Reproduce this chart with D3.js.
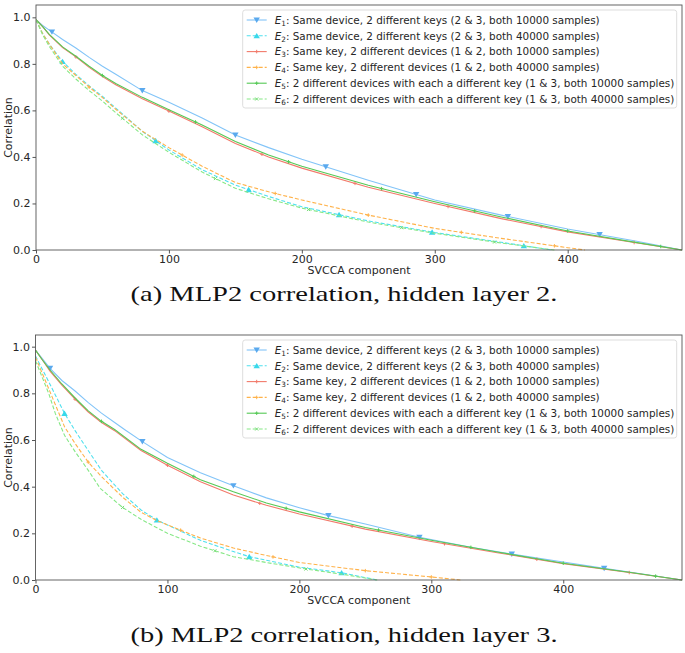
<!DOCTYPE html>
<html><head><meta charset="utf-8">
<script src="https://cdn.jsdelivr.net/npm/d3@7"></script>
<style>body{margin:0;background:#fff}svg{display:block}</style>
</head><body>
<svg id="c" width="685" height="653"></svg>
<script>
// ---------- data (component, correlation) ----------
const xTicks = [0, 100, 200, 300, 400];
const yTicks = [0, 0.2, 0.4, 0.6, 0.8, 1.0];
const legendLabels = [
  ": Same device, 2 different keys (2 & 3, both 10000 samples)",
  ": Same device, 2 different keys (2 & 3, both 40000 samples)",
  ": Same key, 2 different devices (1 & 2, both 10000 samples)",
  ": Same key, 2 different devices (1 & 2, both 40000 samples)",
  ": 2 different devices with each a different key (1 & 3, both 10000 samples)",
  ": 2 different devices with each a different key (1 & 3, both 40000 samples)"
];
const captions = ["(a) MLP2 correlation, hidden layer 2.", "(b) MLP2 correlation, hidden layer 3."];

// Panel (a): hidden layer 2
const aE1 = [[0,0.99],[5,0.965],[10,0.945],[20,0.905],[30,0.868],[40,0.828],[50,0.79],[60,0.755],[80,0.685],[100,0.635],[125,0.567],[150,0.494],[175,0.44],[200,0.39],[250,0.30],[300,0.215],[350,0.15],[400,0.09],[450,0.04],[486,0]];
const aE2 = [[0,0.99],[5,0.93],[10,0.885],[20,0.81],[30,0.755],[40,0.705],[50,0.66],[60,0.61],[80,0.51],[100,0.43],[125,0.345],[150,0.279],[175,0.23],[200,0.186],[250,0.125],[300,0.075],[350,0.033],[388,0]];
const aE3 = [[0,0.99],[5,0.96],[10,0.925],[20,0.87],[30,0.83],[40,0.785],[50,0.745],[60,0.71],[80,0.65],[100,0.597],[125,0.53],[150,0.458],[175,0.40],[200,0.352],[250,0.27],[300,0.20],[350,0.135],[400,0.078],[450,0.032],[486,0]];
const aE4 = [[0,0.99],[5,0.93],[10,0.885],[20,0.80],[30,0.75],[40,0.70],[50,0.655],[60,0.605],[80,0.51],[100,0.44],[125,0.36],[150,0.29],[175,0.25],[200,0.215],[250,0.15],[300,0.093],[350,0.05],[400,0.01],[413,0]];
const aE5 = [[0,0.99],[5,0.96],[10,0.927],[20,0.873],[30,0.833],[40,0.79],[50,0.75],[60,0.716],[80,0.656],[100,0.603],[125,0.537],[150,0.466],[175,0.408],[200,0.36],[250,0.278],[300,0.207],[350,0.142],[400,0.082],[450,0.034],[486,0]];
const aE6 = [[0,0.99],[5,0.925],[10,0.875],[20,0.79],[30,0.735],[40,0.685],[50,0.64],[60,0.59],[80,0.495],[100,0.42],[125,0.335],[150,0.265],[175,0.22],[200,0.18],[250,0.12],[300,0.072],[350,0.03],[390,0]];

// Panel (b): hidden layer 3
const bE1 = [[0,0.985],[5,0.95],[11,0.907],[20,0.855],[30,0.81],[40,0.76],[50,0.715],[60,0.675],[68,0.643],[81,0.593],[100,0.525],[125,0.46],[150,0.404],[175,0.352],[200,0.31],[222,0.276],[250,0.24],[291,0.183],[330,0.14],[361,0.111],[400,0.077],[431,0.05],[460,0.026],[490,0]];
const bE2 = [[0,0.96],[10,0.85],[22,0.714],[30,0.64],[37,0.58],[50,0.47],[66,0.37],[80,0.30],[92,0.257],[100,0.236],[125,0.17],[150,0.122],[162,0.1],[200,0.055],[232,0.031],[259,0]];
const bE3 = [[0,0.985],[5,0.945],[11,0.895],[20,0.835],[30,0.775],[40,0.72],[50,0.675],[60,0.64],[80,0.555],[100,0.492],[125,0.421],[150,0.364],[175,0.32],[200,0.283],[250,0.218],[300,0.165],[350,0.117],[400,0.07],[450,0.032],[490,0]];
const bE4 = [[0,0.955],[10,0.82],[22,0.657],[30,0.585],[40,0.505],[50,0.443],[66,0.355],[80,0.29],[92,0.255],[100,0.236],[125,0.18],[150,0.137],[175,0.105],[200,0.075],[250,0.04],[300,0.013],[322,0]];
const bE5 = [[0,0.985],[5,0.945],[11,0.9],[20,0.84],[30,0.78],[40,0.725],[50,0.68],[60,0.645],[80,0.56],[100,0.50],[125,0.43],[150,0.378],[175,0.33],[200,0.292],[250,0.225],[300,0.17],[350,0.12],[400,0.072],[450,0.033],[490,0]];
const bE6 = [[0,0.94],[10,0.80],[15,0.714],[22,0.62],[30,0.55],[40,0.47],[49,0.393],[66,0.311],[80,0.26],[100,0.20],[125,0.145],[150,0.10],[175,0.075],[205,0.047],[232,0.025],[259,0]];

// marker positions (component index) per series
const aMarks = [[12,80,150,218,286,355,424],[20,90,160,228,298,367],[30,100,170,240,310,380,450],[40,110,180,250,320,390],[50,120,190,260,330,400,470],[65,135,205,275,345]];
const bMarks = [[11,81,150,222,291,361,431],[22,92,162,232],[30,100,170,240,310,380,450],[40,110,180,250,300],[50,120,190,260,330,400,470],[66,136,205]];

// ---------- styles ----------
const styles = [
  {color:"#82c4f8", mcolor:"#5aa9ee", dash:null, marker:"tdown"},
  {color:"#4fe0ee", mcolor:"#38d8ea", dash:"4,2", marker:"tup"},
  {color:"#f27a6a", mcolor:"#f27a6a", dash:null, marker:"plus"},
  {color:"#ffb24a", mcolor:"#ffb24a", dash:"4,2", marker:"plus"},
  {color:"#55c955", mcolor:"#55c955", dash:null, marker:"plus"},
  {color:"#86e886", mcolor:"#7ade7a", dash:"4,2", marker:"x"}
];

const panels = [
  {series:[aE1,aE2,aE3,aE4,aE5,aE6], marks:aMarks, xmax:486, ymax:1.053, left:36, right:682, top:5, bottom:250, legendTop:10, caption:captions[0], capY:301},
  {series:[bE1,bE2,bE3,bE4,bE5,bE6], marks:bMarks, xmax:490, ymax:1.05, left:35.5, right:682, top:335, bottom:580, legendTop:340, caption:captions[1], capY:642}
];

const svg = d3.select("#c");
const font = "DejaVu Sans, sans-serif";

function interp(data, c){
  for(let i=1;i<data.length;i++){
    if(c<=data[i][0]){const [x0,y0]=data[i-1],[x1,y1]=data[i];return y0+(y1-y0)*(c-x0)/(x1-x0);}
  }
  return data[data.length-1][1];
}

function drawMarker(g, type, x, y, col, s){
  if(type==="tdown"){
    g.append("path").attr("d",`M${x-s},${y-s*0.8}L${x+s},${y-s*0.8}L${x},${y+s*0.9}Z`).attr("fill",col);
  } else if(type==="tup"){
    g.append("path").attr("d",`M${x-s},${y+s*0.8}L${x+s},${y+s*0.8}L${x},${y-s*0.9}Z`).attr("fill",col);
  } else if(type==="plus"){
    g.append("path").attr("d",`M${x-s*0.8},${y}L${x+s*0.8},${y}M${x},${y-s*0.8}L${x},${y+s*0.8}`).attr("stroke",col).attr("stroke-width",1);
  } else {
    g.append("path").attr("d",`M${x-s*0.7},${y-s*0.7}L${x+s*0.7},${y+s*0.7}M${x-s*0.7},${y+s*0.7}L${x+s*0.7},${y-s*0.7}`).attr("stroke",col).attr("stroke-width",1);
  }
}

panels.forEach(p=>{
  const x = d3.scaleLinear().domain([0,p.xmax]).range([p.left,p.right]);
  const y = d3.scaleLinear().domain([0,p.ymax]).range([p.bottom,p.top]);
  const g = svg.append("g");
  const clipId = "clip"+p.top;
  svg.append("clipPath").attr("id",clipId).append("rect")
    .attr("x",p.left).attr("y",p.top).attr("width",p.right-p.left).attr("height",p.bottom-p.top+1);

  const line = d3.line().x(d=>x(d[0])).y(d=>y(d[1]));
  const lg = g.append("g").attr("clip-path",`url(#${clipId})`);
  p.series.forEach((s,i)=>{
    const st = styles[i];
    lg.append("path").datum(s).attr("d",line).attr("fill","none")
      .attr("stroke",st.color).attr("stroke-width",1.1)
      .attr("stroke-dasharray",st.dash);
    p.marks[i].forEach(c=>{
      drawMarker(lg, st.marker, x(c), y(interp(s,c)), st.mcolor, st.marker.startsWith("t")?3.2:2.2);
    });
  });

  // frame
  g.append("rect").attr("x",p.left).attr("y",p.top).attr("width",p.right-p.left).attr("height",p.bottom-p.top)
    .attr("fill","none").attr("stroke","#555").attr("stroke-width",0.9);

  // axes
  const xa = g.append("g").attr("transform",`translate(0,${p.bottom})`)
    .call(d3.axisBottom(x).tickValues(xTicks).tickSize(3.5).tickPadding(2).tickFormat(d3.format("d")));
  const ya = g.append("g").attr("transform",`translate(${p.left},0)`)
    .call(d3.axisLeft(y).tickValues(yTicks).tickSize(3.5).tickPadding(2).tickFormat(d3.format(".1f")));
  [xa,ya].forEach(a=>{
    a.select(".domain").remove();
    a.selectAll("line").attr("stroke","#555");
    a.selectAll("text").attr("font-family",font).attr("font-size",11).attr("fill","#262626");
  });

  g.append("text").attr("x",(p.left+p.right)/2).attr("y",p.bottom+24).attr("text-anchor","middle")
    .attr("font-family",font).attr("font-size",11).attr("fill","#262626").text("SVCCA component");
  g.append("text").attr("transform",`translate(12,${(p.top+p.bottom)/2}) rotate(-90)`).attr("text-anchor","middle")
    .attr("font-family",font).attr("font-size",11).attr("fill","#262626").text("Correlation");

  // legend
  const L = g.append("g");
  const lx0 = 242.7, lw = 434, lh = 98;
  L.append("rect").attr("x",lx0).attr("y",p.legendTop).attr("width",lw).attr("height",lh).attr("rx",2.5)
    .attr("fill","#fff").attr("fill-opacity",0.85).attr("stroke","#d9d9d9").attr("stroke-width",0.9);
  legendLabels.forEach((lab,i)=>{
    const st = styles[i];
    const cy = p.legendTop + 10 + i*15.8;
    L.append("line").attr("x1",lx0+4).attr("x2",lx0+24).attr("y1",cy).attr("y2",cy)
      .attr("stroke",st.color).attr("stroke-width",1.1).attr("stroke-dasharray",st.dash);
    drawMarker(L, st.marker, lx0+14, cy, st.mcolor, st.marker.startsWith("t")?3.2:2.2);
    const t = L.append("text").attr("x",lx0+32).attr("y",cy+3.7).attr("font-family",font).attr("font-size",10.4).attr("fill","#262626");
    t.append("tspan").attr("font-style","italic").text("E");
    t.append("tspan").attr("font-size",7.3).attr("dy",2).text(String(i+1));
    t.append("tspan").attr("dy",-2).text(lab);
  });

  // caption
  svg.append("text").attr("x",344).attr("y",p.capY).attr("text-anchor","middle")
    .attr("font-family","Liberation Serif, DejaVu Serif, serif").attr("font-size",21).attr("fill","#111")
    .attr("textLength",427).attr("lengthAdjust","spacingAndGlyphs").text(p.caption);
});
</script>
</body></html>
